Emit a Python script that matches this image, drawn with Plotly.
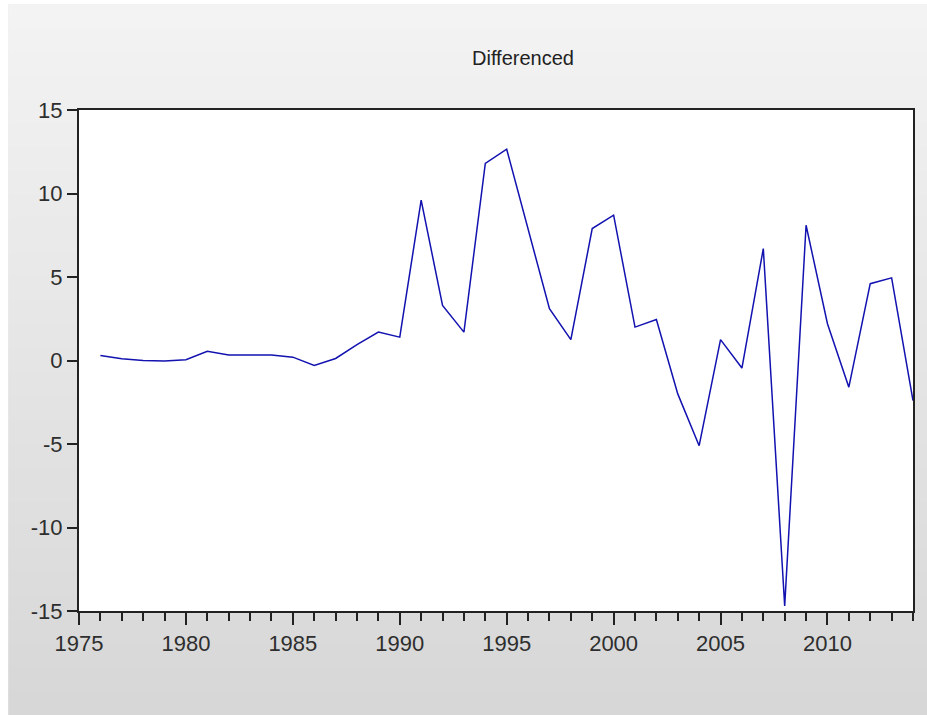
import plotly.graph_objects as go

# Annual first differences, 1976-2014
years = list(range(1976, 2015))
diff_values = [
    0.30, 0.10, 0.00, -0.03, 0.05, 0.55, 0.33, 0.33, 0.33, 0.20,
    -0.30, 0.12, 0.95, 1.70, 1.40, 9.60, 3.30, 1.70, 11.80, 12.65,
    7.80, 3.10, 1.25, 7.90, 8.70, 2.00, 2.45, -2.00, -5.10, 1.25,
    -0.45, 6.70, -14.70, 8.10, 2.20, -1.60, 4.60, 4.95, -2.40,
]
title_text = "Differenced"
x_ticks = [1975, 1980, 1985, 1990, 1995, 2000, 2005, 2010]
y_ticks = [-15, -10, -5, 0, 5, 10, 15]

W, H = 927, 715
L, R, T, B = 79, 12, 110, 104
pw, ph = W - L - R, H - T - B


def px_to_paper_x(px):
    return (px - L) / pw


def px_to_paper_y(py):
    return (H - B - py) / ph


# grey vertical gradient behind the chart
shapes = []
n_bands = 60
top, bottom = 4, H
c_top, c_bot = 243, 215
for i in range(n_bands):
    y0 = top + (bottom - top) * i / n_bands
    y1 = top + (bottom - top) * (i + 1) / n_bands + 1
    t = i / (n_bands - 1)
    c = round(c_top + (c_bot - c_top) * t)
    shapes.append(dict(
        type="rect", xref="paper", yref="paper", layer="below",
        x0=px_to_paper_x(8), x1=px_to_paper_x(W + 20),
        y0=px_to_paper_y(min(y1, H + 20)), y1=px_to_paper_y(y0),
        fillcolor=f"rgb({c},{c},{c})", line=dict(width=0),
    ))
# thin white edge along the top and left
shapes.append(dict(
    type="rect", xref="paper", yref="paper", layer="below",
    x0=px_to_paper_x(-5), x1=px_to_paper_x(W + 20),
    y0=px_to_paper_y(4), y1=px_to_paper_y(-5),
    fillcolor="white", line=dict(width=0),
))
shapes.append(dict(
    type="rect", xref="paper", yref="paper", layer="below",
    x0=px_to_paper_x(-5), x1=px_to_paper_x(8),
    y0=px_to_paper_y(H + 20), y1=px_to_paper_y(-5),
    fillcolor="white", line=dict(width=0),
))
# white plotting area
shapes.append(dict(
    type="rect", xref="paper", yref="paper", layer="below",
    x0=0, x1=1, y0=0, y1=1, fillcolor="white", line=dict(width=0),
))

fig = go.Figure()
fig.add_trace(go.Scatter(
    x=years, y=diff_values, mode="lines",
    line=dict(color="#1212b0", width=1.5),
    showlegend=False, hoverinfo="skip",
))

tick_font = dict(family="Liberation Sans, Arial, sans-serif", size=22, color="#2e2e2e")

fig.update_layout(
    width=W, height=H,
    margin=dict(l=L, r=R, t=T, b=B, pad=0),
    paper_bgcolor="rgb(218,218,218)",
    plot_bgcolor="rgba(0,0,0,0)",
    shapes=shapes,
    showlegend=False,
    annotations=[dict(
        text=title_text, xref="paper", yref="paper",
        x=px_to_paper_x(524), y=px_to_paper_y(58),
        xanchor="center", yanchor="middle", showarrow=False,
        font=dict(family="Liberation Sans, Arial, sans-serif", size=20, color="#222222"),
    )],
    xaxis=dict(
        range=[1975, 2014], tickmode="array", tickvals=x_ticks,
        ticktext=[str(v) for v in x_ticks],
        ticks="outside", ticklen=12, tickwidth=1.5, tickcolor="#222222",
        minor=dict(dtick=1, tick0=1975, ticks="outside", ticklen=8,
                   tickwidth=1.5, tickcolor="#222222", showgrid=False),
        showgrid=False, zeroline=False,
        showline=True, linecolor="#222222", linewidth=2, mirror=True,
        tickfont=tick_font,
    ),
    yaxis=dict(
        range=[-15, 15], tickmode="array", tickvals=y_ticks,
        ticktext=[str(v) for v in y_ticks],
        ticks="outside", ticklen=10, tickwidth=1.5, tickcolor="#222222",
        showgrid=False, zeroline=False,
        showline=True, linecolor="#222222", linewidth=2, mirror=True,
        tickfont=tick_font,
    ),
)

fig.write_html("out.html")
